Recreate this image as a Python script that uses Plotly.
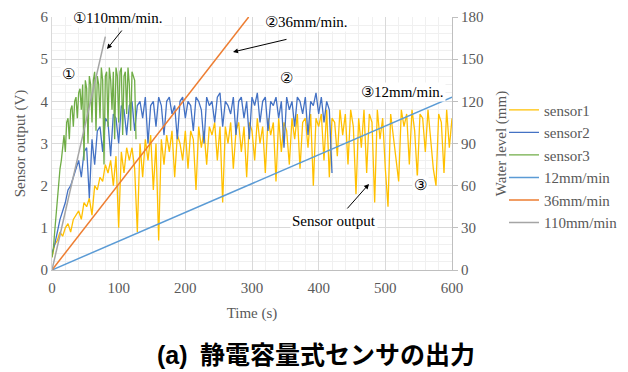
import plotly.graph_objects as go

# ---- data ----
t1_step = 4
sensor1 = [
    0.3, 0.6, 0.7, 0.9, 0.8, 1.0, 1.1, 0.9, 1.2, 1.3,
    1.4, 1.2, 1.6, 1.5, 1.7, 1.3, 2.0, 1.9, 2.2, 2.1,
    2.5, 2.3, 2.6, 2.0, 2.7, 1.0, 2.8, 2.3, 2.9, 2.6,
    2.9, 2.4, 0.9, 3.0, 2.2, 3.1, 2.6, 3.2, 1.9, 3.0,
    0.7, 3.1, 2.5, 3.2, 2.8, 3.3, 2.2, 3.2, 3.0, 2.6,
    3.3, 2.4, 3.3, 3.1, 1.9, 3.4, 2.9, 3.3, 2.5, 3.4,
    3.2, 3.5, 2.6, 3.4, 1.6, 3.4, 3.0, 3.5, 2.4, 3.3,
    3.5, 2.8, 3.4, 2.2, 3.5, 3.3, 2.6, 3.6, 3.0, 3.4,
    2.3, 3.6, 3.2, 3.5, 2.1, 3.6, 2.8, 3.5, 3.3, 2.5,
    3.6, 3.1, 3.7, 2.4, 3.5, 3.6, 2.9, 3.7, 2.0, 3.6,
    3.4, 3.7, 2.6, 3.8, 2.2, 3.6, 3.5, 2.7, 3.8, 3.2,
    3.7, 2.5, 3.8, 3.4, 1.8, 3.6, 2.9, 3.8, 2.3, 3.7,
    3.5, 1.6, 3.8, 3.1, 3.6, 2.4, 1.5, 3.7, 3.2, 2.6,
    2.1, 3.8, 3.4, 3.7, 2.5, 3.8, 3.3, 2.2, 3.7, 3.6,
    2.8, 3.8, 3.1, 2.4, 2.0, 3.7, 3.5, 2.3, 3.8, 2.9,
    3.6,
]
t2_step = 4
sensor2 = [
    0.4, 0.6, 0.9, 1.2, 1.4, 1.6, 1.9, 2.0, 2.2, 2.4,
    2.6, 2.2, 2.8, 2.9, 1.7, 3.1, 2.5, 3.3, 3.4, 2.8,
    3.6, 3.5, 2.7, 3.7, 3.6, 3.0, 3.9, 3.8, 3.2, 3.9,
    4.0, 3.3, 3.9, 4.0, 3.6, 4.1, 3.0, 3.9, 4.0, 3.4,
    4.1, 3.9, 3.2, 4.0, 4.1, 3.7, 3.9, 3.1, 4.0, 4.1,
    3.6, 4.0, 3.9, 3.3, 4.1, 4.0, 3.8, 3.0, 4.1, 3.9,
    4.0, 3.5, 4.1, 4.2, 3.4, 4.0, 3.9, 3.7, 4.1, 3.2,
    4.0, 4.1, 3.6, 4.0, 3.1, 4.1, 3.9, 4.2, 3.5, 4.0,
    4.1, 3.3, 4.0, 3.9, 4.1, 3.6, 4.0, 2.9, 4.1, 3.8,
    4.0, 3.4, 4.1, 4.0, 3.7, 4.1, 3.2, 4.0, 3.9, 4.2,
    3.7, 4.1, 3.5, 4.0, 3.8, 2.3,
]
t3_step = 2
sensor3 = [
    0.3, 0.5, 0.9, 1.3, 1.7, 2.0, 2.4, 2.6, 3.0, 3.2,
    2.8, 3.5, 3.6, 3.1, 3.8, 3.9, 3.4, 4.0, 4.1, 3.6,
    4.2, 4.3, 3.8, 4.4, 2.6, 4.5, 4.3, 3.0, 4.6, 4.4,
    3.5, 4.5, 4.7, 3.3, 4.6, 4.4, 3.6, 4.8, 4.5, 2.5,
    4.6, 4.7, 3.4, 4.8, 4.5, 3.8, 4.7, 3.1, 4.8, 4.6,
    3.5, 4.7, 4.8, 3.2, 4.6, 4.7, 3.7, 4.8, 4.4, 3.3,
    4.7, 4.6, 4.5, 3.1,
]
level12_t = [0, 600]
level12_mm = [0, 123]
level36_t = [0, 295]
level36_mm = [0, 180]
level110_t = [0, 80]
level110_mm = [0, 166]

time1 = [i * t1_step for i in range(len(sensor1))]
time2 = [i * t2_step for i in range(len(sensor2))]
time3 = [i * t3_step for i in range(len(sensor3))]

fig = go.Figure()
lw = 1.3
fig.add_trace(go.Scatter(x=time1, y=sensor1, mode="lines", name="sensor1",
                         line=dict(color="#FFC000", width=lw)))
fig.add_trace(go.Scatter(x=time2, y=sensor2, mode="lines", name="sensor2",
                         line=dict(color="#4472C4", width=lw)))
fig.add_trace(go.Scatter(x=time3, y=sensor3, mode="lines", name="sensor3",
                         line=dict(color="#70AD47", width=lw)))
fig.add_trace(go.Scatter(x=level12_t, y=level12_mm, mode="lines", name="12mm/min",
                         yaxis="y2", line=dict(color="#5B9BD5", width=1.5)))
fig.add_trace(go.Scatter(x=level36_t, y=level36_mm, mode="lines", name="36mm/min",
                         yaxis="y2", line=dict(color="#ED7D31", width=1.5)))
fig.add_trace(go.Scatter(x=level110_t, y=level110_mm, mode="lines", name="110mm/min",
                         yaxis="y2", line=dict(color="#A5A5A5", width=1.5)))

serif = "Liberation Serif"
tickfont = dict(family=serif, size=15, color="#595959")
titlefont = dict(family=serif, size=15, color="#595959")

fig.update_layout(
    width=628, height=372,
    margin=dict(l=52, r=176, t=17, b=102, autoexpand=False),
    paper_bgcolor="white", plot_bgcolor="white",
    font=dict(family=serif, color="#595959"),
    xaxis=dict(range=[0, 600], dtick=100, tickfont=tickfont, automargin=False,
               title=dict(text="Time (s)", font=titlefont, standoff=12),
               ticklabelstandoff=4,
               showgrid=True, gridcolor="#d9d9d9", gridwidth=1,
               minor=dict(dtick=20, showgrid=True, gridcolor="#f0f0f0"),
               showline=True, linecolor="#bfbfbf", zeroline=False,
               ticks=""),
    yaxis=dict(range=[0, 6], dtick=1, tickfont=tickfont, automargin=False,
               title=dict(text="Sensor output (V)", font=titlefont, standoff=11),
               showgrid=True, gridcolor="#d9d9d9", gridwidth=1,
               minor=dict(dtick=0.2, showgrid=True, gridcolor="#f0f0f0"),
               showline=True, linecolor="#d9d9d9", zeroline=False, ticks=""),
    yaxis2=dict(range=[0, 180], dtick=30, overlaying="y", side="right",
                tickfont=tickfont, showgrid=False, zeroline=False, automargin=False,
                title=dict(text="Water level (mm)", font=titlefont, standoff=12),
                showline=True, linecolor="#bfbfbf", ticks="outside",
                ticklen=5, tickcolor="#bfbfbf"),
    legend=dict(x=1.13, y=0.697, xanchor="left", yanchor="top",
                font=dict(family=serif, size=15, color="#595959"),
                tracegroupgap=0, itemwidth=30, bgcolor="rgba(0,0,0,0)"),
    showlegend=True,
)

afont = dict(family=serif, size=15, color="black")
labels = [
    ("①110mm/min.", 99, 5.98),
    ("②36mm/min.", 381, 5.88),
    ("①", 24, 4.65),
    ("②", 352, 4.55),
    ("③12mm/min.", 526, 4.22),
    ("③", 553, 2.02),
    ("Sensor output", 423, 1.16),
]
for txt, x, y in labels:
    fig.add_annotation(x=x, y=y, xref="x", yref="y", text=txt, showarrow=False,
                       font=afont, bgcolor="white", borderpad=1)

arrows = [(82.5, 5.24, 16, -20), (271.5, 5.17, 55, -13), (475.5, 2.04, -23, 26)]
for x, y, ax, ay in arrows:
    fig.add_annotation(x=x, y=y, xref="x", yref="y", text="", showarrow=True,
                       ax=ax, ay=ay, arrowhead=2, arrowsize=1, arrowwidth=1,
                       arrowcolor="black")

fig.add_annotation(
    x=(316 - 52) / 400, y=(270 - 355) / 253, xref="paper", yref="paper",
    text="<b>(a)\u2002静電容量式センサの出力</b>", showarrow=False,
    font=dict(family="Liberation Sans, Noto Sans CJK JP", size=25, color="black"),
    xanchor="center", yanchor="middle",
)

fig.write_html("out.html", config={"displayModeBar": False},
               post_script="document.body.style.margin='0';")
